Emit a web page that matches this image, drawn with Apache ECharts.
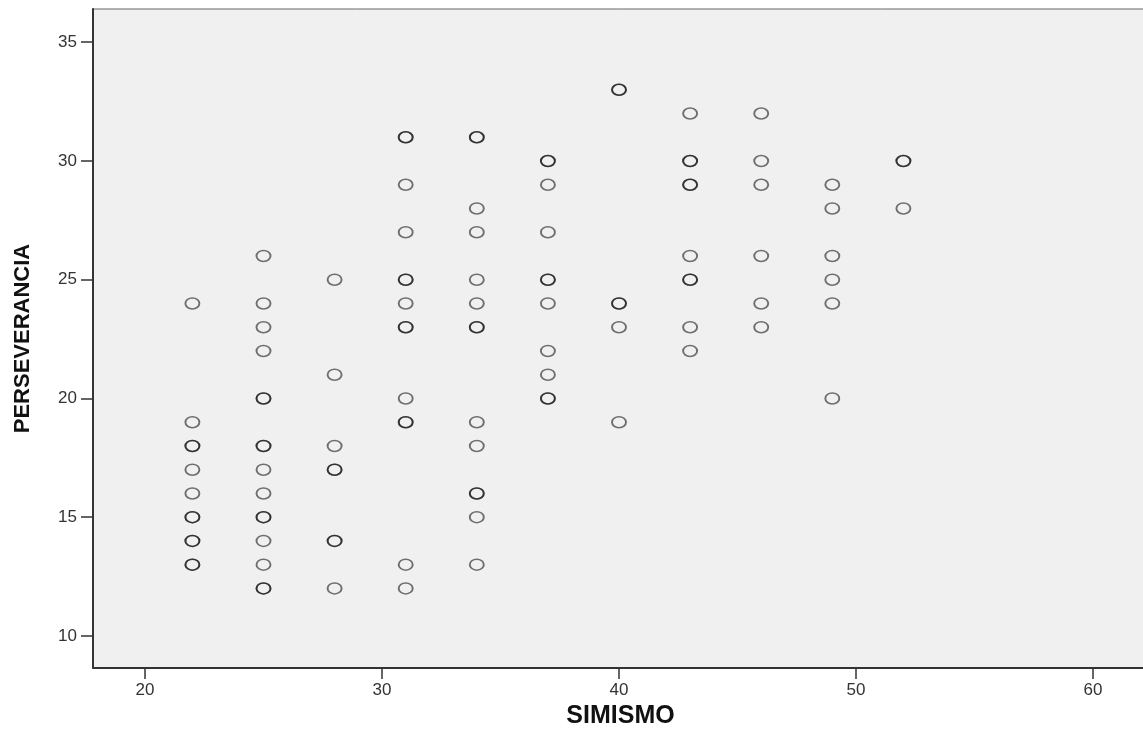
<!DOCTYPE html>
<html>
<head>
<meta charset="utf-8">
<script src="https://cdn.jsdelivr.net/npm/echarts@6/dist/echarts.min.js"></script>
<style>
html,body{margin:0;padding:0;background:#fff;}
#chart{width:1143px;height:737px;}
</style>
</head>
<body>
<div id="chart"></div>
<script>
// Data (duplicates = overlapping observations)
const simismo = [
  22,22,22,22,22,22,22,22,22,22,22,22,
  25,25,25,25,25,25,25,25,25,25,25,25,25,25,25,25,
  28,28,28,28,28,28,28,28,
  31,31,31,31,31,31,31,31,31,31,31,31,31,31,
  34,34,34,34,34,34,34,34,34,34,34,34,34,34,
  37,37,37,37,37,37,37,37,37,37,37,
  40,40,40,40,40,40,
  43,43,43,43,43,43,43,43,43,43,
  46,46,46,46,46,46,
  49,49,49,49,49,49,
  52,52,52
];
const perseverancia = [
  24,19,18,18,17,16,15,15,14,14,13,13,
  26,24,23,22,20,20,18,18,17,16,15,15,14,13,12,12,
  25,21,18,17,17,14,14,12,
  31,31,29,27,25,25,24,23,23,20,19,19,13,12,
  31,31,28,27,25,24,23,23,19,18,16,16,15,13,
  30,30,29,27,25,25,24,22,21,20,20,
  33,33,24,24,23,19,
  32,30,30,29,29,26,25,25,23,22,
  32,30,29,26,24,23,
  29,28,26,25,24,20,
  30,30,28
];
const xTicks = [20,30,40,50,60];
const yTicks = [10,15,20,25,30,35];
const xName = 'SIMISMO';
const yName = 'PERSEVERANCIA';

const points = simismo.map((x, i) => [x, perseverancia[i]]);

const chart = echarts.init(document.getElementById('chart'), null, {renderer: 'canvas'});
const font = "'Liberation Sans', Arial, sans-serif";
chart.setOption({
  animation: false,
  backgroundColor: '#ffffff',
  grid: {
    left: 93, right: -5, top: 9, bottom: 69,
    outerBoundsMode: 'none',
    containLabel: false,
    show: true,
    backgroundColor: '#f0f0f0',
    borderColor: '#666',
    borderWidth: 1
  },
  xAxis: {
    type: 'value',
    min: 17.806, max: 62.32,
    name: xName,
    nameLocation: 'middle',
    nameGap: 35,
    nameTextStyle: {fontFamily: font, fontWeight: 'bold', fontSize: 25, color: '#111'},
    axisLine: {show: true, onZero: false, lineStyle: {color: '#333', width: 2}},
    axisTick: {show: true, customValues: xTicks, length: 11, lineStyle: {color: '#333', width: 1.5}},
    axisLabel: {customValues: xTicks, margin: 14, fontFamily: font, fontSize: 17, color: '#333'},
    splitLine: {show: false}
  },
  yAxis: {
    type: 'value',
    min: 8.65, max: 36.40,
    name: yName,
    nameLocation: 'middle',
    nameGap: 59,
    nameRotate: 90,
    nameTextStyle: {fontFamily: font, fontWeight: 'bold', fontSize: 22, color: '#111'},
    axisLine: {show: true, onZero: false, lineStyle: {color: '#333', width: 2}},
    axisTick: {show: true, customValues: yTicks, length: 12, lineStyle: {color: '#333', width: 1.5}},
    axisLabel: {customValues: yTicks, margin: 16, fontFamily: font, fontSize: 17, color: '#333'},
    splitLine: {show: false}
  },
  series: [{
    type: 'scatter',
    data: points,
    symbol: 'path://M0,5 A5,5 0 1,1 10,5 A5,5 0 1,1 0,5 Z',
    symbolSize: [14, 11],
    symbolKeepAspect: false,
    itemStyle: {color: 'rgba(0,0,0,0)', borderColor: 'rgba(0,0,0,0.68)', borderWidth: 1.7},
    emphasis: {disabled: true}
  }]
});
</script>
</body>
</html>
